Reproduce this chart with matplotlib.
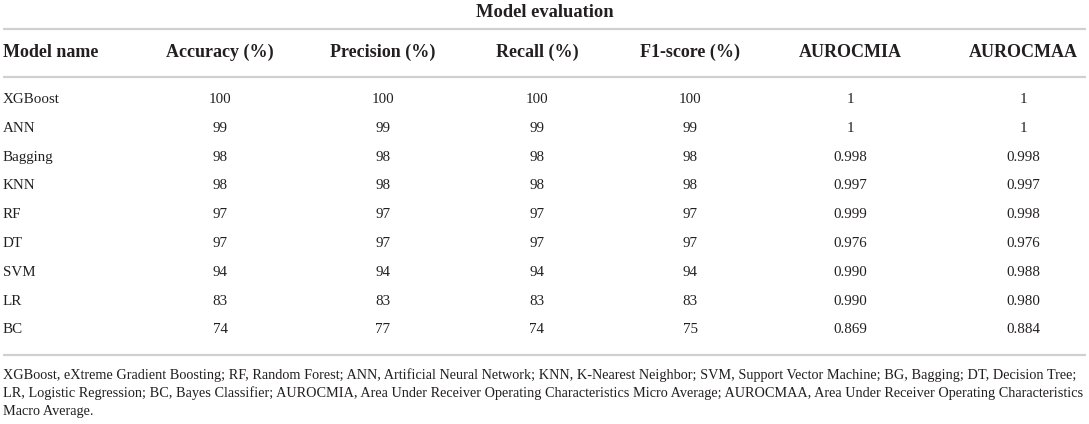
import matplotlib
matplotlib.use("Agg")
import matplotlib.pyplot as plt

title = "Model evaluation"
columns = ["Model name", "Accuracy (%)", "Precision (%)", "Recall (%)",
           "F1-score (%)", "AUROCMIA", "AUROCMAA"]
models = ["XGBoost", "ANN", "Bagging", "KNN", "RF", "DT", "SVM", "LR", "BC"]
accuracy = ["100", "99", "98", "98", "97", "97", "94", "83", "74"]
precision = ["100", "99", "98", "98", "97", "97", "94", "83", "77"]
recall = ["100", "99", "98", "98", "97", "97", "94", "83", "74"]
f1_score = ["100", "99", "98", "98", "97", "97", "94", "83", "75"]
auroc_mia = ["1", "1", "0.998", "0.997", "0.999", "0.976", "0.990", "0.990", "0.869"]
auroc_maa = ["1", "1", "0.998", "0.997", "0.998", "0.976", "0.988", "0.980", "0.884"]
footnote = [
    "XGBoost, eXtreme Gradient Boosting; RF, Random Forest; ANN, Artificial Neural Network; "
    "KNN, K-Nearest Neighbor; SVM, Support Vector Machine; BG, Bagging; DT, Decision Tree;",
    "LR, Logistic Regression; BC, Bayes Classifier; AUROCMIA, Area Under Receiver Operating "
    "Characteristics Micro Average; AUROCMAA, Area Under Receiver Operating Characteristics",
    "Macro Average.",
]

W, H = 1089, 424
fig = plt.figure(figsize=(W / 100, H / 100), dpi=100)
ax = fig.add_axes([0, 0, 1, 1])
ax.set_xlim(0, W)
ax.set_ylim(H, 0)
ax.axis("off")

plt.rcParams["font.family"] = ["Liberation Serif", "DejaVu Serif"]
txt = "#231f20"
rule = "#d0d0d0"

col_x = [3, 220, 383, 537, 690, 850, 1023]
row_y0 = 103
row_dy = 28.8

ax.text(W / 2, 17, title, ha="center", va="baseline", fontsize=13.3,
        fontweight="bold", color=txt)
for y in [29, 77, 355]:
    ax.hlines(y, 3, 1086, color=rule, lw=1.6)

for i, c in enumerate(columns):
    ax.text(col_x[i], 57, c, ha="left" if i == 0 else "center", va="baseline",
            fontsize=13, fontweight="bold", color=txt)

table = [models, accuracy, precision, recall, f1_score, auroc_mia, auroc_maa]
for j in range(len(models)):
    y = row_y0 + j * row_dy
    for i, col in enumerate(table):
        ax.text(col_x[i], y, col[j], ha="left" if i == 0 else "center",
                va="baseline", fontsize=10.8, color=txt)

for k, line in enumerate(footnote):
    ax.text(3, 379 + k * 18, line, ha="left", va="baseline", fontsize=10.3,
            color=txt)

fig.savefig("out.png", dpi=100)
